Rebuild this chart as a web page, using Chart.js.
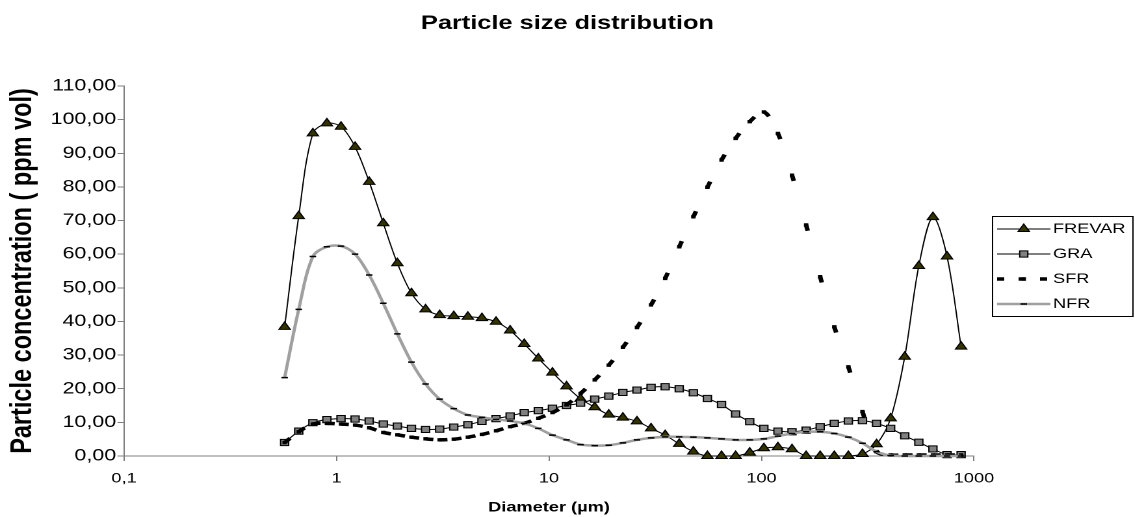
<!DOCTYPE html>
<html>
<head>
<meta charset="utf-8">
<title>Particle size distribution</title>
<script src="https://cdn.jsdelivr.net/npm/chart.js@4.4.1/dist/chart.umd.min.js"></script>
<style>
  html, body { margin: 0; padding: 0; background: #fff; overflow: hidden; }
  /* the chart is laid out narrower and stretched sideways, like the pasted office chart */
  #wrap { width: 873px; height: 517px; transform: scaleX(1.3); transform-origin: 0 0; }
</style>
</head>
<body>
<div id="wrap"><canvas id="psdChart" width="873" height="517"></canvas></div>
<script>
// size classes (µm), log spaced
const diameter = [0.570, 0.664, 0.774, 0.901, 1.050, 1.223, 1.425, 1.660, 1.934, 2.253,
  2.625, 3.058, 3.563, 4.151, 4.835, 5.633, 6.563, 7.646, 8.907, 10.38,
  12.09, 14.08, 16.41, 19.11, 22.27, 25.94, 30.22, 35.21, 41.02, 47.79,
  55.67, 64.86, 75.56, 88.03, 102.6, 119.5, 139.2, 162.2, 188.9, 220.1,
  256.4, 298.7, 348.0, 405.4, 472.3, 550.2, 641.0, 746.8, 870.0];

// concentration, ppm vol
const frevar = [38.4, 71.3, 95.9, 98.9, 97.9, 91.9, 81.5, 69.2, 57.3, 48.4,
  43.6, 41.9, 41.6, 41.4, 41.0, 39.9, 37.3, 33.3, 29.0, 24.8,
  20.7, 17.0, 14.5, 12.3, 11.4, 10.3, 8.2, 6.2, 3.6, 1.3,
  0.0, 0.0, 0.0, 1.0, 2.3, 2.6, 2.0, 0.0, 0.0, 0.0,
  0.0, 0.6, 3.5, 11.2, 29.5, 56.5, 71.0, 59.3, 32.5];
const gra = [4.0, 7.4, 9.9, 10.8, 11.1, 11.0, 10.4, 9.5, 8.9, 8.2,
  7.9, 8.0, 8.6, 9.3, 10.3, 11.1, 11.9, 12.9, 13.5, 14.2,
  15.0, 15.7, 16.9, 17.8, 18.9, 19.6, 20.4, 20.6, 20.0, 18.8,
  17.1, 15.3, 12.5, 10.2, 8.2, 7.4, 7.2, 7.7, 8.7, 9.7,
  10.4, 10.5, 9.7, 8.2, 6.0, 4.1, 2.1, 0.4, 0.4];
const sfr = [4.0, 7.2, 9.5, 9.7, 9.5, 9.2, 8.4, 7.0, 6.3, 5.6,
  5.1, 4.8, 5.0, 5.6, 6.4, 7.5, 8.7, 9.7, 11.2, 12.9,
  15.2, 18.6, 22.6, 27.0, 32.3, 38.2, 44.9, 52.8, 62.2, 71.1,
  79.9, 88.0, 94.4, 99.4, 102.3, 95.9, 83.5, 68.7, 53.3, 38.4,
  26.5, 13.2, 1.3, 0.3, 0.3, 0.3, 0.3, 0.3, 0.3];
const nfr = [23.3, 43.6, 59.3, 62.2, 62.4, 60.0, 53.8, 45.4, 36.3, 27.9,
  21.4, 16.9, 14.1, 12.2, 11.5, 10.9, 10.4, 9.7, 8.2, 6.2,
  4.8, 3.4, 3.1, 3.2, 3.9, 4.8, 5.4, 5.7, 5.7, 5.6,
  5.4, 5.1, 4.8, 4.8, 5.1, 5.9, 6.7, 7.2, 7.2, 6.7,
  5.6, 3.8, 1.3, 0.1, 0.0, 0.0, 0.0, 0.0, 0.0];

const xTicks = [0.1, 1, 10, 100, 1000];
const yTicks = [0, 10, 20, 30, 40, 50, 60, 70, 80, 90, 100, 110];

const FONT = 'Arial, "Liberation Sans", sans-serif';
Chart.defaults.font.family = FONT;
Chart.defaults.color = '#000';

// SFR: one short dash from every point (each segment is stroked on its own)
const SFR_DASH = [6, 90];
const SFR_LEGEND_DASH = [5.5, 11];

function pts(values) {
  return values.map((v, i) => ({ x: diameter[i], y: v }));
}

// boxed legend on the right: line sample with the marker in the middle
const boxLegend = {
  id: 'boxLegend',
  afterDraw(chart) {
    const c = chart.ctx;
    const x0 = 763, y0 = 216, w = 108, h = 100;
    c.save();
    c.fillStyle = '#fff';
    c.fillRect(x0, y0, w, h);
    c.strokeStyle = '#000';
    c.lineWidth = 1;
    c.strokeRect(x0 + 0.5, y0 + 0.5, w, h);
    chart.data.datasets.forEach((ds, i) => {
      const y = y0 + 13 + i * 25;
      c.setLineDash(ds.borderDash ? SFR_LEGEND_DASH : []);
      c.lineCap = 'butt';
      c.strokeStyle = ds.borderColor;
      c.lineWidth = ds.borderWidth;
      c.beginPath();
      c.moveTo(x0 + 4, y);
      c.lineTo(x0 + 45, y);
      c.stroke();
      c.setLineDash([]);
      c.fillStyle = ds.pointBackgroundColor || '#000';
      c.strokeStyle = ds.pointBorderColor || '#000';
      c.lineWidth = ds.pointBorderWidth;
      Chart.helpers.drawPoint(c, {
        pointStyle: ds.pointStyle, radius: ds.pointRadius,
        borderWidth: ds.pointBorderWidth, rotation: 0
      }, x0 + 24.5, y);
      c.fillStyle = '#000';
      c.font = '14px ' + FONT;
      c.textBaseline = 'middle';
      c.textAlign = 'left';
      c.fillText(ds.label, x0 + 47, y);
    });
    c.restore();
  }
};

const axisGrid = { drawOnChartArea: false, drawTicks: true, tickLength: 5, tickColor: '#808080', color: '#808080' };

const ctx = document.getElementById('psdChart').getContext('2d');
new Chart(ctx, {
  type: 'line',
  data: {
    datasets: [
      {
        label: 'FREVAR', data: pts(frevar), order: 4,
        borderColor: '#000', borderWidth: 1,
        pointStyle: 'triangle', pointRadius: 5,
        pointBackgroundColor: '#333300', pointBorderColor: '#000', pointBorderWidth: 1,
        clip: 8
      },
      {
        label: 'GRA', data: pts(gra), order: 3,
        borderColor: '#000', borderWidth: 1,
        pointStyle: 'rect', pointRadius: 4.4,
        pointBackgroundColor: '#808080', pointBorderColor: '#000', pointBorderWidth: 1,
        clip: 8
      },
      {
        label: 'SFR', data: pts(sfr), order: 2,
        borderColor: '#000', borderWidth: 3.5, borderDash: SFR_DASH,
        pointStyle: 'rect', pointRadius: 2.4,
        pointBackgroundColor: '#000', pointBorderColor: '#000', pointBorderWidth: 0,
        clip: 4,
        // alternate a tiny offset so every segment is its own path
        segment: { borderDashOffset: s => (s.p0DataIndex % 2) * 0.01 }
      },
      {
        label: 'NFR', data: pts(nfr), order: 1,
        borderColor: '#a0a0a0', borderWidth: 2.5,
        pointStyle: 'line', pointRadius: 2.5,
        pointBackgroundColor: '#000', pointBorderColor: '#000', pointBorderWidth: 1.5,
        clip: 4
      }
    ]
  },
  options: {
    responsive: false,
    devicePixelRatio: 2,
    animation: false,
    elements: { line: { tension: 0.33, borderCapStyle: 'butt' } },
    layout: { padding: 0 },
    plugins: {
      legend: { display: false },
      tooltip: { enabled: false },
      title: {
        display: true, text: 'Particle size distribution', color: '#000',
        font: { size: 19.5, weight: 'bold' },
        padding: { top: 12, bottom: 50.6 }
      }
    },
    scales: {
      x: {
        type: 'logarithmic', min: 0.1, max: 1000,
        afterBuildTicks: s => { s.ticks = xTicks.map(v => ({ value: v })); },
        afterFit: s => { s.height = 61; },
        ticks: {
          font: { size: 14 }, color: '#000', padding: 9,
          maxRotation: 0, autoSkip: false,
          callback: v => String(v).replace('.', ',')
        },
        grid: axisGrid,
        border: { color: '#808080', width: 1 },
        title: {
          display: true, text: 'Diameter (µm)', color: '#000',
          font: { size: 14, weight: 'bold' },
          padding: { top: 0, bottom: 1 }
        }
      },
      y: {
        min: 0, max: 110,
        afterBuildTicks: s => { s.ticks = yTicks.map(v => ({ value: v })); },
        afterFit: s => { s.width = 95.4; },
        ticks: {
          font: { size: 16.5 }, color: '#000', padding: 1,
          callback: v => v.toFixed(2).replace('.', ',')
        },
        grid: axisGrid,
        border: { color: '#808080', width: 1 },
        title: {
          display: true, text: 'Particle concentration ( ppm vol)', color: '#000',
          font: { size: 23.5, weight: 'bold' },
          padding: { top: 3.5, bottom: 0 }
        }
      },
      // empty strip on the right that holds the legend
      legendSpace: {
        position: 'right',
        afterFit: s => { s.width = 123.8; },
        ticks: { display: false },
        grid: { display: false },
        border: { display: false }
      }
    }
  },
  plugins: [boxLegend]
});
</script>
</body>
</html>
